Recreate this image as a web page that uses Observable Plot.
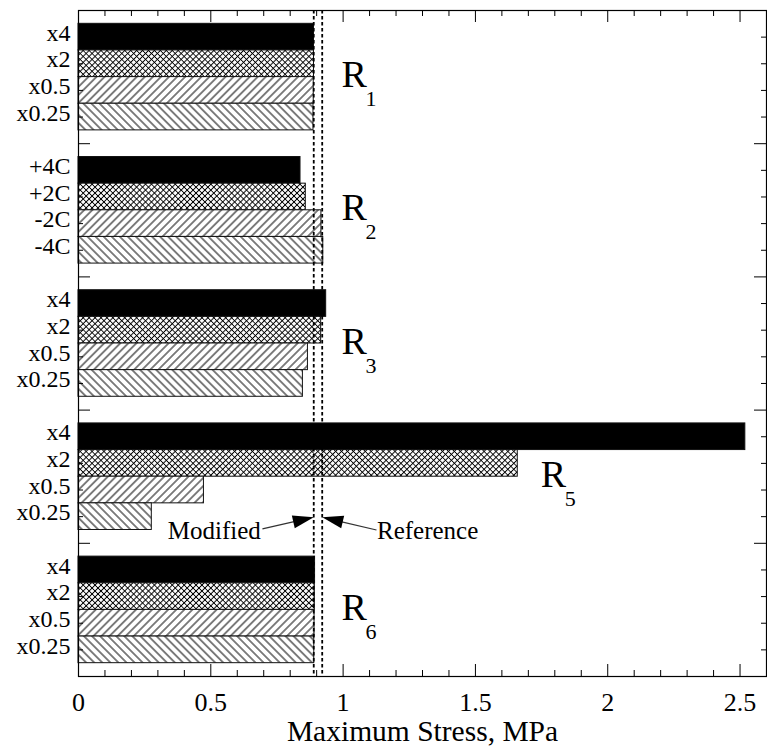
<!DOCTYPE html>
<html><head><meta charset="utf-8">
<script src="https://cdn.jsdelivr.net/npm/d3@7"></script>
<script src="https://cdn.jsdelivr.net/npm/@observablehq/plot@0.6"></script>
<style>body{margin:0;background:#fff;} #chart svg{display:block;} #chart svg text{font-family:"Liberation Serif",serif;}</style>
</head><body><div id="chart"></div>
<script>
// ---------- data ----------
const groups = ["R1", "R2", "R3", "R5", "R6"];
const scaleLabels = ["x4", "x2", "x0.5", "x0.25"];
const tempLabels = ["+4C", "+2C", "-2C", "-4C"];
const valuesR1 = [0.890, 0.890, 0.889, 0.888];
const valuesR2 = [0.839, 0.859, 0.918, 0.925];
const valuesR3 = [0.936, 0.917, 0.867, 0.848];
const valuesR5 = [2.52, 1.66, 0.474, 0.277];
const valuesR6 = [0.894, 0.893, 0.892, 0.891];
const modifiedStress = 0.889;
const referenceStress = 0.921;
const xTickValues = [0, 0.5, 1, 1.5, 2, 2.5];
const xTickLabels = ["0", "0.5", "1", "1.5", "2", "2.5"];
const axisTitle = "Maximum Stress, MPa";
const annotationTexts = ["Modified", "Reference"];

// ---------- layout / style ----------
const FONT = "Liberation Serif";
const W = 767, H = 756, mL = 78, mR = 1, mT = 10, mB = 80;
const plotW = W - mL - mR, plotH = H - mT - mB;
const SLOTS = 5; // 4 bars + 1 gap per group
const patterns = ["black", "url(#p-cross)", "url(#p-fwd)", "url(#p-back)"];
const groupLabelSets = [scaleLabels, tempLabels, scaleLabels, scaleLabels, scaleLabels];
const groupValues = [valuesR1, valuesR2, valuesR3, valuesR5, valuesR6];
const groupLabelX = [0.994, 0.994, 0.994, 1.747, 0.994];

const bars = groups.flatMap((g, gi) => groupLabelSets[gi].map((label, i) => ({
  group: g, label, value: groupValues[gi][i], kind: i,
  y1: gi * SLOTS + 0.5 + i, y2: gi * SLOTS + 1.5 + i
})));
const barCenters = bars.map(d => (d.y1 + d.y2) / 2);
const groupSeparators = groups.slice(1).map((g, i) => (i + 1) * SLOTS);
const groupRows = groups.map((g, gi) => ({
  letter: g[0], sub: g.slice(1), x: groupLabelX[gi], y: gi * SLOTS + 2.5
}));
const xMinor = d3.range(1, 26).map(i => i / 10).filter(v => Math.abs(v * 2 - Math.round(v * 2)) > 1e-6);

// annotation (data units)
const annotations = [
  {text: annotationTexts[0], tx: 0.689, ty: 19.53, x1: 0.697, y1: 19.48, x2: 0.891, y2: 19.04},
  {text: annotationTexts[1], tx: 1.128, ty: 19.53, x1: 1.128, y1: 19.52, x2: 0.923, y2: 19.04}
];

function annotationArrows(index, scales) {
  const ns = "http://www.w3.org/2000/svg";
  const g = document.createElementNS(ns, "g");
  for (const a of annotations) {
    const x1 = scales.x(a.x1), y1 = scales.y(a.y1), x2 = scales.x(a.x2), y2 = scales.y(a.y2);
    const dx = x2 - x1, dy = y2 - y1, L = Math.hypot(dx, dy), ux = dx / L, uy = dy / L;
    const hl = 21, hw = 6.5;
    const bx = x2 - ux * hl, by = y2 - uy * hl;
    const line = document.createElementNS(ns, "path");
    line.setAttribute("d", `M${x1},${y1}L${bx + ux * 2},${by + uy * 2}`);
    line.setAttribute("stroke", "#333");
    line.setAttribute("stroke-width", "1.2");
    line.setAttribute("fill", "none");
    g.appendChild(line);
    const head = document.createElementNS(ns, "path");
    head.setAttribute("d", `M${x2},${y2}L${bx - uy * hw},${by + ux * hw}L${bx + uy * hw},${by - ux * hw}Z`);
    head.setAttribute("fill", "black");
    g.appendChild(head);
  }
  return g;
}

const svg = Plot.plot({
  width: W, height: H, marginLeft: mL, marginRight: mR, marginTop: mT, marginBottom: mB,
  style: {fontFamily: FONT, color: "black", background: "white", overflow: "visible"},
  x: {domain: [0, 2.6], axis: null},
  y: {domain: [0, SLOTS * groups.length], reverse: true, axis: null},
  color: {type: "identity"},
  marks: [
    Plot.rect(bars, {x1: 0, x2: "value", y1: "y1", y2: "y2", fill: d => patterns[d.kind], stroke: "#111", strokeWidth: 1}),
    Plot.ruleX([modifiedStress, referenceStress], {x: d => d, stroke: "black", strokeWidth: 1.8, strokeDasharray: "3.5,2.5"}),
    // x ticks (top & bottom, inward)
    Plot.tickX(xTickValues, {x: d => d, insetBottom: plotH - 12, stroke: "black"}),
    Plot.tickX(xTickValues, {x: d => d, insetTop: plotH - 12, stroke: "black"}),
    Plot.tickX(xMinor, {x: d => d, insetBottom: plotH - 6, stroke: "black"}),
    Plot.tickX(xMinor, {x: d => d, insetTop: plotH - 6, stroke: "black"}),
    // y ticks (left & right, inward)
    Plot.tickY(barCenters, {y: d => d, insetRight: plotW - 5, stroke: "black"}),
    Plot.tickY(barCenters, {y: d => d, insetLeft: plotW - 5, stroke: "black"}),
    Plot.tickY(groupSeparators, {y: d => d, insetRight: plotW - 12, stroke: "black"}),
    Plot.tickY(groupSeparators, {y: d => d, insetLeft: plotW - 12, stroke: "black"}),
    Plot.frame({stroke: "black", strokeWidth: 1.2}),
    // y tick labels
    Plot.text(bars, {y: d => (d.y1 + d.y2) / 2, frameAnchor: "left", text: "label", textAnchor: "end", dx: -8, dy: -4, fontSize: 24, fontFamily: FONT}),
    // x tick labels
    Plot.text(xTickValues, {x: d => d, frameAnchor: "bottom", text: (d, i) => xTickLabels[i], lineAnchor: "top", dy: 16, fontSize: 26, fontFamily: FONT}),
    Plot.text([axisTitle], {frameAnchor: "bottom", text: d => d, dy: 64, fontSize: 29.5, fontFamily: FONT}),
    // group labels R with subscripts
    Plot.text(groupRows, {x: "x", y: "y", text: "letter", textAnchor: "start", dy: -2, fontSize: 38, fontFamily: FONT}),
    Plot.text(groupRows, {x: "x", y: "y", text: "sub", textAnchor: "start", dx: 24, dy: 22, fontSize: 22, fontFamily: FONT}),
    // annotations
    Plot.text(annotations.slice(0, 1), {x: "tx", y: "ty", text: "text", textAnchor: "end", fontSize: 25, fontFamily: FONT}),
    Plot.text(annotations.slice(1), {x: "tx", y: "ty", text: "text", textAnchor: "start", fontSize: 25, fontFamily: FONT}),
    annotationArrows
  ]
});

// pattern definitions
(function addPatterns() {
  const ns = "http://www.w3.org/2000/svg";
  const defs = document.createElementNS(ns, "defs");
  function pat(id, size, d) {
    const p = document.createElementNS(ns, "pattern");
    p.setAttribute("id", id);
    p.setAttribute("patternUnits", "userSpaceOnUse");
    p.setAttribute("width", size);
    p.setAttribute("height", size);
    p.setAttribute("patternTransform", id === "p-back" ? "rotate(-45)" : "rotate(45)");
    const bg = document.createElementNS(ns, "rect");
    bg.setAttribute("width", size); bg.setAttribute("height", size); bg.setAttribute("fill", "white");
    p.appendChild(bg);
    const path = document.createElementNS(ns, "path");
    path.setAttribute("d", d);
    path.setAttribute("stroke", "black");
    path.setAttribute("stroke-width", "1");
    p.appendChild(path);
    defs.appendChild(p);
  }
  pat("p-cross", 4.2, "M2.1,0V4.2M0,2.1H4.2");
  pat("p-fwd", 5.7, "M2.85,0V5.7");
  pat("p-back", 5.7, "M2.85,0V5.7");
  svg.insertBefore(defs, svg.firstChild);
})();

document.getElementById("chart").appendChild(svg);
</script>
</body></html>
